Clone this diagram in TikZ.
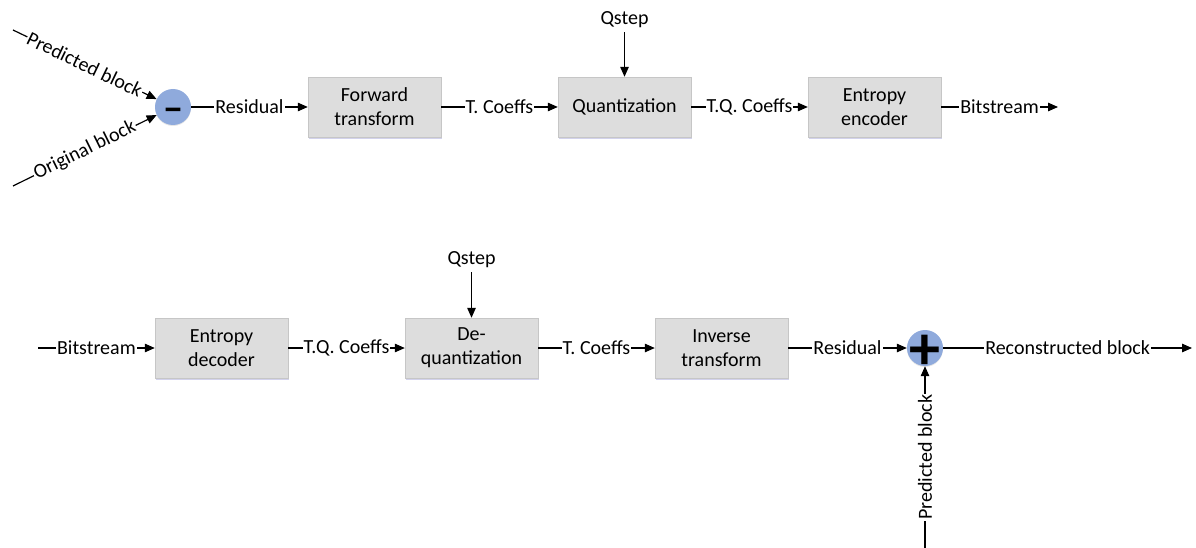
\documentclass[tikz,border=0pt]{standalone}
\usepackage{fontspec}
\setmainfont{Carlito}
\newfontfamily\signfont[FakeBold=4]{Carlito}
\usepackage{tikz}
\usetikzlibrary{positioning,arrows.meta,shadows}

\definecolor{sumblue}{HTML}{8FAADC}
\definecolor{blkgray}{HTML}{DDDDDD}

\begin{document}
\begin{tikzpicture}[x=1pt,y=-1pt,node distance=250pt,on grid,
    font=\fontsize{20}{24}\selectfont,
    blk/.style={draw=gray!45,fill=blkgray,minimum width=133pt,minimum height=60pt,
      align=center,inner sep=2pt,
      drop shadow={opacity=0.25,shadow xshift=1pt,shadow yshift=-2pt,fill=blue!40!gray}},
    sum/.style={circle,fill=sumblue,minimum size=36pt,inner sep=0pt,
      text height=0pt,text depth=0pt,
      drop shadow={opacity=0.2,shadow xshift=0pt,shadow yshift=-1pt,fill=gray}},
    lbl/.style={fill=white,inner sep=1pt},
    arr/.style={-{Triangle[length=10pt,width=8.5pt]},line width=1.2pt}]
   \useasboundingbox (0,0) rectangle (1196,548);

   % encoder
   \node[sum] (minus) at (173,107) {\raisebox{-9.5pt}{\signfont\bfseries\fontsize{25}{25}\selectfont --}};
   \node[blk] (fwd) [right=201.5pt of minus] {Forward\\transform};
   \node[blk] (quant) [right=of fwd] {Quantization};
   \node[blk] (enc) [right=of quant] {Entropy\\encoder};
   \node[inner sep=4pt] (qs_1) [above=87pt of quant] {Qstep};
   \coordinate (pin_1) at (13,30);
   \coordinate (pin_2) at (13,186);
   \coordinate (bout) at (1058,107);

   % decoder
   \node[blk] (dec) at (221.5,348) {Entropy\\decoder};
   \node[blk] (dq) [right=of dec] {De-\\quantization};
   \node[blk] (inv) [right=of dq] {Inverse\\transform};
   \node[sum] (plus) [right=203.5pt of inv] {\raisebox{-21pt}{\bfseries\fontsize{62}{62}\selectfont +}};
   \node[inner sep=4pt] (qs_2) [above=88pt of dq] {Qstep};
   \coordinate (bin) at (38,348);
   \coordinate (rout) at (1192,348);
   \coordinate (pbot) at (925,548);

   \path[arr]
    (pin_1) edge node[lbl,sloped] {Predicted block} (minus)
    (pin_2) edge node[lbl,sloped] {Original block} (minus)
    (minus) edge node[lbl] {Residual} (fwd)
    (fwd) edge node[lbl] {T. Coeffs} (quant)
    (qs_1) edge (quant)
    (quant) edge node[lbl] {T.Q. Coeffs} (enc)
    (enc) edge node[lbl] {Bitstream} (bout)
    (bin) edge node[lbl] {Bitstream} (dec)
    (dec) edge node[lbl] {T.Q. Coeffs} (dq)
    (qs_2) edge (dq)
    (dq) edge node[lbl] {T. Coeffs} (inv)
    (inv) edge node[lbl] {Residual} (plus)
    (pbot) edge node[lbl,sloped] {Predicted block} (plus)
    (plus) edge node[lbl] {Reconstructed block} (rout);
\end{tikzpicture}
\end{document}
